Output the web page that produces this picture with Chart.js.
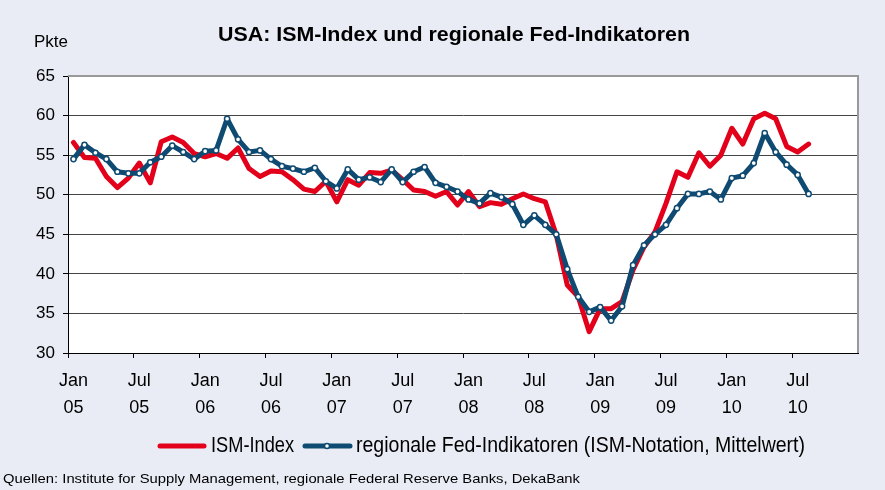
<!DOCTYPE html>
<html>
<head>
<meta charset="utf-8">
<script src="https://cdn.jsdelivr.net/npm/chart.js@4.4.1/dist/chart.umd.min.js"></script>
<style>
  html, body { margin: 0; padding: 0; background: #e9ecf5; }
</style>
</head>
<body>
<canvas id="ismChart" width="885" height="490"></canvas>
<script>
// monthly data Jan 05 .. Aug 10
const years = ['05', '06', '07', '08', '09', '10'];
const months = ['Jan','Feb','Mar','Apr','May','Jun','Jul','Aug','Sep','Oct','Nov','Dec'];
const yTicks = [30, 35, 40, 45, 50, 55, 60, 65];

const ismIndex = [
  56.6, 54.7, 54.6, 52.3, 50.9, 52.1, 54.0, 51.5, 56.7, 57.3, 56.6, 55.2,
  54.8, 55.2, 54.6, 55.9, 53.3, 52.3, 53.0, 52.9, 51.9, 50.7, 50.4, 51.7,
  49.1, 51.9, 51.2, 52.8, 52.7, 53.1, 51.9, 50.6, 50.4, 49.8, 50.4, 48.7,
  50.4, 48.5, 49.0, 48.8, 49.5, 50.1, 49.5, 49.1, 44.9, 38.6, 37.1, 32.7,
  35.6, 35.6, 36.5, 40.5, 43.4, 45.3, 48.9, 52.9, 52.2, 55.3, 53.6, 55.0,
  58.4, 56.4, 59.6, 60.3, 59.6, 56.1, 55.4, 56.4
];
const fedIndicators = [
  54.5, 56.3, 55.3, 54.5, 52.9, 52.7, 52.7, 54.1, 54.8, 56.2, 55.4, 54.5,
  55.5, 55.6, 59.6, 57.0, 55.4, 55.6, 54.5, 53.6, 53.3, 52.9, 53.4, 51.7,
  50.8, 53.2, 51.9, 52.2, 51.6, 53.2, 51.6, 52.9, 53.5, 51.5, 51.0, 50.4,
  49.4, 48.9, 50.2, 49.7, 48.8, 46.2, 47.4, 46.2, 45.0, 40.6, 37.1, 35.2,
  35.8, 34.1, 35.9, 41.1, 43.6, 45.0, 46.2, 48.3, 50.1, 50.1, 50.4, 49.4,
  52.1, 52.4, 54.0, 57.8, 55.4, 53.8, 52.5, 50.1
];

const categories = [];
years.forEach(yy => months.forEach(mm => categories.push(mm + ' ' + yy)));

const RED = '#e2001a';
const BLUE = '#0e4a72';

// draw text squeezed/stretched to a given width
function fitText(ctx, text, x, y, width, font) {
  ctx.font = font;
  const s = width / ctx.measureText(text).width;
  ctx.save();
  ctx.translate(x, y);
  ctx.scale(s, 1);
  ctx.textAlign = 'left';
  ctx.textBaseline = 'alphabetic';
  ctx.fillText(text, 0, 0);
  ctx.restore();
}

const frame = {
  id: 'frame',
  beforeDraw(chart) {
    const { ctx, chartArea: a } = chart;
    ctx.save();
    ctx.fillStyle = '#e9ecf5';
    ctx.fillRect(0, 0, chart.width, chart.height);
    ctx.fillStyle = '#ffffff';
    ctx.fillRect(a.left, a.top, a.right - a.left, a.bottom - a.top);
    ctx.restore();
  },
  afterDraw(chart) {
    const { ctx, chartArea: a } = chart;
    ctx.save();
    // top + right frame
    ctx.strokeStyle = '#999999';
    ctx.lineWidth = 2;
    ctx.beginPath();
    ctx.moveTo(a.left, a.top);
    ctx.lineTo(a.right, a.top);
    ctx.lineTo(a.right, a.bottom);
    ctx.stroke();

    ctx.fillStyle = '#000';
    fitText(ctx, 'USA: ISM-Index und regionale Fed-Indikatoren', 218, 41, 472, 'bold 21px Arial, "Liberation Sans"');
    fitText(ctx, 'Pkte', 34, 47, 34, '17px Arial, "Liberation Sans"');

    // legend
    ctx.lineCap = 'round';
    ctx.lineWidth = 5;
    ctx.strokeStyle = RED;
    ctx.beginPath(); ctx.moveTo(160, 446); ctx.lineTo(204, 446); ctx.stroke();
    ctx.strokeStyle = BLUE;
    ctx.beginPath(); ctx.moveTo(305, 446); ctx.lineTo(350, 446); ctx.stroke();
    ctx.fillStyle = '#fff';
    ctx.lineWidth = 1.5;
    ctx.beginPath(); ctx.arc(327, 446, 2.5, 0, Math.PI * 2); ctx.fill(); ctx.stroke();
    ctx.fillStyle = '#000';
    fitText(ctx, 'ISM-Index', 211, 452, 83, '22px Arial, "Liberation Sans"');
    fitText(ctx, 'regionale Fed-Indikatoren (ISM-Notation, Mittelwert)', 356, 452, 449, '22px Arial, "Liberation Sans"');

    fitText(ctx, 'Quellen: Institute for Supply Management, regionale Federal Reserve Banks, DekaBank', 3, 483, 577, '13px Arial, "Liberation Sans"');
    ctx.restore();
  }
};

const ctx = document.getElementById('ismChart').getContext('2d');
const ismChart = new Chart(ctx, {
  type: 'line',
  data: {
    labels: categories,
    datasets: [{
      label: 'ISM-Index',
      data: ismIndex,
      borderColor: RED,
      borderWidth: 5,
      pointRadius: 0,
      tension: 0,
      borderJoinStyle: 'round',
      borderCapStyle: 'round',
      order: 2
    }, {
      label: 'regionale Fed-Indikatoren (ISM-Notation, Mittelwert)',
      data: fedIndicators,
      borderColor: BLUE,
      borderWidth: 5,
      pointRadius: 2.6,
      pointBorderWidth: 1.5,
      pointBackgroundColor: '#ffffff',
      pointBorderColor: BLUE,
      tension: 0,
      borderJoinStyle: 'round',
      borderCapStyle: 'round',
      order: 1
    }]
  },
  options: {
    responsive: false,
    animation: false,
    layout: { padding: { top: 76, right: 27, left: 0, bottom: 0 } },
    plugins: {
      legend: { display: false },
      title: { display: false },
      tooltip: { enabled: false }
    },
    scales: {
      x: {
        type: 'category',
        offset: true,
        afterFit: s => { s.height = 137; },
        grid: {
          offset: true,
          drawOnChartArea: false,
          drawTicks: true,
          tickLength: 5,
          tickColor: c => (c.index % 6 === 0 ? '#000' : 'rgba(0,0,0,0)')
        },
        border: { color: '#000', width: 1 },
        ticks: {
          autoSkip: false,
          maxRotation: 0,
          padding: 10,
          color: '#000',
          font: { family: 'Arial, "Liberation Sans"', size: 18, lineHeight: 1.5 },
          callback: function (value, index) {
            if (index % 6 !== 0) return '';
            const parts = this.getLabelForValue(value).split(' ');
            return [parts[0], parts[1]];
          }
        }
      },
      y: {
        min: 30,
        max: 65,
        afterFit: s => { s.width = 68; },
        afterBuildTicks: s => { s.ticks = yTicks.map(v => ({ value: v })); },
        grid: { color: '#444', lineWidth: 1, tickLength: 5, tickColor: '#000' },
        border: { color: '#000', width: 1 },
        ticks: {
          padding: 8,
          color: '#000',
          font: { family: 'Arial, "Liberation Sans"', size: 17 }
        }
      }
    }
  },
  plugins: [frame]
});
</script>
</body>
</html>
